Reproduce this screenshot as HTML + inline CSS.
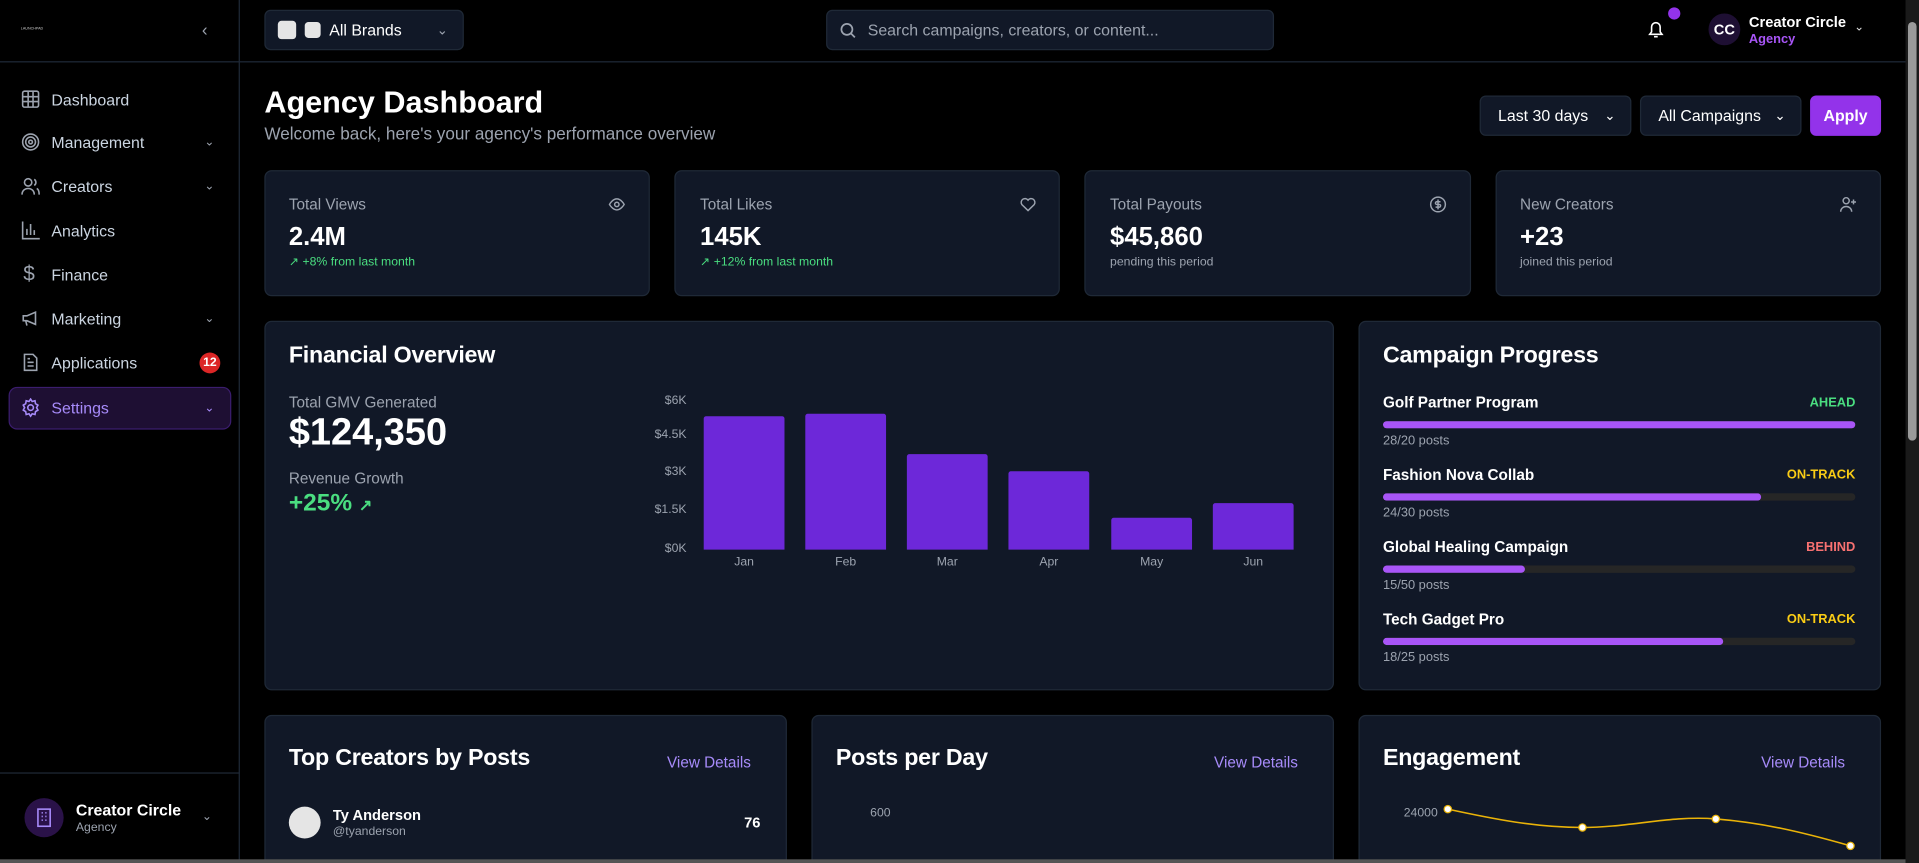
<!DOCTYPE html>
<html><head><meta charset="utf-8"><style>
*{box-sizing:border-box;margin:0;padding:0}
html,body{width:1919px;height:863px;overflow:hidden;background:#000;font-family:"Liberation Sans",sans-serif;color:#fff}
#w{position:absolute;left:0;top:0;width:1568px;height:705px;overflow:hidden;transform:scale(1.22385,1.2241);transform-origin:0 0}
.a{position:absolute;white-space:nowrap}
.card{position:absolute;background:#111827;border:1px solid #1f2937;border-radius:6px}
.btn{position:absolute;background:#111827;border:1px solid #1f2937;border-radius:5px;font-size:13px;display:flex;align-items:center}
.nav{position:absolute;left:42px;font-size:13px;color:#cbd5e1}
.ico{position:absolute;left:17px;width:16px;height:16px}
.chev{position:absolute;font-size:10px;color:#9ca3af}
.lbl{font-size:12.5px;color:#9ca3af}
.val{font-size:21px;font-weight:bold}
.bar{position:absolute;background:#6d28d9;border-radius:2px 2px 0 0;width:66px}
.ml{position:absolute;top:454px;font-size:10px;color:#9ca3af;width:66px;text-align:center}
.yl{position:absolute;right:1007px;font-size:10px;color:#9ca3af}
.cn{position:absolute;left:1130px;font-size:12.5px;font-weight:bold}
.st{position:absolute;right:52px;font-size:10.5px;font-weight:bold}
.tr{position:absolute;left:1130px;width:386px;height:6px;background:#262626;border-radius:3px;overflow:hidden}
.tr div{height:6px;background:#a855f7;border-radius:3px}
.ps{position:absolute;left:1130px;font-size:10.5px;color:#9ca3af}
.h2{position:absolute;font-size:19px;font-weight:bold;letter-spacing:-0.2px}
.vd{position:absolute;font-size:12.5px;color:#a78bfa}
</style></head><body><div id="w">
<div class="a" style="left:0;top:0;width:196px;height:705px;border-right:1px solid #1f2937"></div>
<div class="a" style="left:0;top:50px;width:196px;border-top:1px solid #1f2937"></div>
<div class="a" style="left:17px;top:21px;font-size:3px;color:#ccc">LAUNCHPAD</div>
<div class="chev" style="left:165px;top:16px;font-size:14px">‹</div>
<svg class="ico" style="top:73px" viewBox="0 0 16 16" fill="none" stroke="#9ca3af" stroke-width="1.3"><rect x="1.5" y="1.5" width="13" height="13" rx="1.5"/><path d="M1.5 6h13M1.5 10h13M6 1.5v13M10 1.5v13"/></svg>
<div class="nav" style="top:74px">Dashboard</div>
<svg class="ico" style="top:108px" viewBox="0 0 16 16" fill="none" stroke="#9ca3af" stroke-width="1.3"><circle cx="8" cy="8" r="6.5"/><circle cx="8" cy="8" r="4"/><circle cx="8" cy="8" r="1.5"/></svg>
<div class="nav" style="top:109px">Management</div><div class="chev" style="left:167px;top:111px">⌄</div>
<svg class="ico" style="top:144px" viewBox="0 0 16 16" fill="none" stroke="#9ca3af" stroke-width="1.3"><circle cx="6" cy="5" r="3"/><path d="M1 15c0-3 2-5 5-5s5 2 5 5M11 2.5a3 3 0 010 5M13 10c1.5.6 2 2.5 2 5"/></svg>
<div class="nav" style="top:145px">Creators</div><div class="chev" style="left:167px;top:147px">⌄</div>
<svg class="ico" style="top:180px" viewBox="0 0 16 16" fill="none" stroke="#9ca3af" stroke-width="1.3"><path d="M1.5 1v14h14M5 12V7M8 12V3M11 12V8"/></svg>
<div class="nav" style="top:181px">Analytics</div>
<div class="a" style="left:19px;top:214px;font-size:17px;color:#9ca3af">$</div>
<div class="nav" style="top:217px">Finance</div>
<svg class="ico" style="top:252px" viewBox="0 0 16 16" fill="none" stroke="#9ca3af" stroke-width="1.3"><path d="M2 6h3l7-3v10l-7-3H2zM4 10l1 4"/></svg>
<div class="nav" style="top:253px">Marketing</div><div class="chev" style="left:167px;top:255px">⌄</div>
<svg class="ico" style="top:288px" viewBox="0 0 16 16" fill="none" stroke="#9ca3af" stroke-width="1.3"><path d="M3 1.5h7l3 3v10H3zM5.5 8h5M5.5 11h5M5.5 5h2"/></svg>
<div class="nav" style="top:289px">Applications</div>
<div class="a" style="left:163px;top:288px;width:17px;height:17px;border-radius:50%;background:#dc2626;font-size:10px;font-weight:bold;text-align:center;line-height:17px">12</div>
<div class="a" style="left:7px;top:316px;width:182px;height:35px;background:#1e0f33;border:1px solid #3b1d6e;border-radius:7px"></div>
<svg class="ico" style="top:325px" viewBox="0 0 16 16" fill="none" stroke="#a78bfa" stroke-width="1.3"><circle cx="8" cy="8" r="2.3"/><path d="M8 1l1.3 2 2.3-.6.4 2.3 2 1.3-1.1 2 1.1 2-2 1.3-.4 2.3-2.3-.6L8 15l-1.3-2-2.3.6-.4-2.3-2-1.3 1.1-2-1.1-2 2-1.3.4-2.3 2.3.6z"/></svg>
<div class="nav" style="top:326px;color:#a78bfa">Settings</div><div class="chev" style="left:167px;top:328px;color:#a78bfa">⌄</div>
<div class="a" style="left:0;top:631px;width:196px;border-top:1px solid #1f2937"></div>
<div class="a" style="left:20px;top:652px;width:32px;height:32px;border-radius:50%;background:#2a1248"></div>
<svg class="a" style="left:29px;top:660px" width="14" height="16" viewBox="0 0 14 16" fill="none" stroke="#a78bfa" stroke-width="1.3"><rect x="2" y="1" width="10" height="14"/><path d="M5 4h1M8 4h1M5 7h1M8 7h1M5 10h1M8 10h1"/></svg>
<div class="a" style="left:62px;top:654px;font-size:13px;font-weight:bold">Creator Circle</div>
<div class="a" style="left:62px;top:671px;font-size:10px;color:#9ca3af">Agency</div>
<div class="chev" style="left:165px;top:662px">⌄</div>
<div class="a" style="left:196px;top:50px;width:1361px;border-top:1px solid #1f2937"></div>
<div class="btn" style="left:216px;top:8px;width:163px;height:33px">
<span style="display:inline-block;width:15px;height:15px;background:#e5e5e5;border-radius:3px;margin-left:10px"></span>
<span style="display:inline-block;width:13px;height:13px;background:#e5e5e5;border-radius:3px;margin-left:7px"></span>
<span style="margin-left:7px">All Brands</span><span style="margin-left:auto;margin-right:12px;color:#9ca3af;font-size:11px">⌄</span></div>
<div class="btn" style="left:675px;top:8px;width:366px;height:33px;color:#9ca3af">
<svg style="margin-left:10px" width="14" height="14" viewBox="0 0 14 14" fill="none" stroke="#9ca3af" stroke-width="1.4"><circle cx="6" cy="6" r="4.5"/><path d="M9.5 9.5l3 3"/></svg>
<span style="margin-left:9px">Search campaigns, creators, or content...</span></div>
<svg class="a" style="left:1346px;top:16px" width="14" height="16" viewBox="0 0 14 16" fill="none" stroke="#fff" stroke-width="1.3"><path d="M2 12h10l-1.5-2V6a3.5 3.5 0 00-7 0v4zM5.5 14h3"/></svg>
<div class="a" style="left:1363px;top:6px;width:10px;height:10px;border-radius:50%;background:#9333ea"></div>
<div class="a" style="left:1396px;top:11px;width:26px;height:26px;border-radius:50%;background:#1e0f33;font-size:12px;font-weight:bold;text-align:center;line-height:26px">CC</div>
<div class="a" style="left:1429px;top:11px;font-size:12px;font-weight:bold">Creator Circle</div>
<div class="a" style="left:1429px;top:26px;font-size:10.5px;color:#a855f7;font-weight:bold">Agency</div>
<div class="chev" style="left:1515px;top:17px;color:#ddd">⌄</div>
<div class="a" style="left:1557px;top:0;width:11px;height:705px;background:#1a1a1a"></div>
<div class="a" style="left:1559px;top:18px;width:7px;height:342px;background:#9a9a9a;border-radius:4px"></div>
<div class="a" style="left:216px;top:70px;font-size:25px;font-weight:bold">Agency Dashboard</div>
<div class="a" style="left:216px;top:101px;font-size:14px;color:#9ca3af">Welcome back, here's your agency's performance overview</div>
<div class="btn" style="left:1209px;top:78px;width:124px;height:33px"><span style="margin-left:14px">Last 30 days</span><span style="margin-left:auto;margin-right:12px;font-size:11px">⌄</span></div>
<div class="btn" style="left:1340px;top:78px;width:132px;height:33px"><span style="margin-left:14px">All Campaigns</span><span style="margin-left:auto;margin-right:12px;font-size:11px">⌄</span></div>
<div class="btn" style="left:1479px;top:78px;width:58px;height:33px;background:#9333ea;border-color:#9333ea;justify-content:center;font-weight:bold">Apply</div>
<div class="card" style="left:216px;top:139px;width:315px;height:103px"></div>
<div class="card" style="left:551px;top:139px;width:315px;height:103px"></div>
<div class="card" style="left:886px;top:139px;width:316px;height:103px"></div>
<div class="card" style="left:1222px;top:139px;width:315px;height:103px"></div>
<div class="a lbl" style="left:236px;top:160px">Total Views</div><div class="a val" style="left:236px;top:182px">2.4M</div><div class="a" style="left:236px;top:209px;font-size:10px;color:#4ade80">↗ +8% from last month</div>
<div class="a lbl" style="left:572px;top:160px">Total Likes</div><div class="a val" style="left:572px;top:182px">145K</div><div class="a" style="left:572px;top:209px;font-size:10px;color:#4ade80">↗ +12% from last month</div>
<div class="a lbl" style="left:907px;top:160px">Total Payouts</div><div class="a val" style="left:907px;top:182px">$45,860</div><div class="a" style="left:907px;top:209px;font-size:10px;color:#9ca3af">pending this period</div>
<div class="a lbl" style="left:1242px;top:160px">New Creators</div><div class="a val" style="left:1242px;top:182px">+23</div><div class="a" style="left:1242px;top:209px;font-size:10px;color:#9ca3af">joined this period</div>
<svg class="a" style="left:497px;top:161px" width="14" height="12" viewBox="0 0 14 12" fill="none" stroke="#9ca3af" stroke-width="1.2"><path d="M1 6s2.5-4.5 6-4.5S13 6 13 6s-2.5 4.5-6 4.5S1 6 1 6z"/><circle cx="7" cy="6" r="1.8"/></svg>
<svg class="a" style="left:833px;top:161px" width="14" height="12" viewBox="0 0 14 12" fill="none" stroke="#9ca3af" stroke-width="1.2"><path d="M7 11L2 6.2A2.8 2.8 0 017 2.5a2.8 2.8 0 015 3.7z"/></svg>
<svg class="a" style="left:1168px;top:160px" width="14" height="14" viewBox="0 0 14 14" fill="none" stroke="#9ca3af" stroke-width="1.2"><circle cx="7" cy="7" r="6"/><path d="M9 4.8H6a1.1 1.1 0 000 2.2h2a1.1 1.1 0 010 2.2H5M7 3v8"/></svg>
<svg class="a" style="left:1503px;top:160px" width="14" height="14" viewBox="0 0 14 14" fill="none" stroke="#9ca3af" stroke-width="1.2"><circle cx="5.5" cy="4" r="2.5"/><path d="M1 13c0-2.5 2-4.3 4.5-4.3S10 10.5 10 13M11.5 3v4M9.5 5h4"/></svg>
<div class="card" style="left:216px;top:262px;width:874px;height:302px"></div>
<div class="h2" style="left:236px;top:280px">Financial Overview</div>
<div class="a lbl" style="left:236px;top:322px">Total GMV Generated</div>
<div class="a" style="left:236px;top:335px;font-size:31px;font-weight:bold">$124,350</div>
<div class="a lbl" style="left:236px;top:384px">Revenue Growth</div>
<div class="a" style="left:236px;top:400px;font-size:20px;font-weight:bold;color:#4ade80">+25% <span style="font-size:13px">↗</span></div>
<div class="yl" style="top:322px">$6K</div><div class="yl" style="top:350px">$4.5K</div><div class="yl" style="top:380px">$3K</div><div class="yl" style="top:411px">$1.5K</div><div class="yl" style="top:443px">$0K</div>
<div class="bar" style="left:575px;top:340px;height:109px"></div>
<div class="bar" style="left:658px;top:338px;height:111px"></div>
<div class="bar" style="left:741px;top:371px;height:78px"></div>
<div class="bar" style="left:824px;top:385px;height:64px"></div>
<div class="bar" style="left:908px;top:423px;height:26px"></div>
<div class="bar" style="left:991px;top:411px;height:38px"></div>
<div class="ml" style="left:575px">Jan</div><div class="ml" style="left:658px">Feb</div><div class="ml" style="left:741px">Mar</div><div class="ml" style="left:824px">Apr</div><div class="ml" style="left:908px">May</div><div class="ml" style="left:991px">Jun</div>
<div class="card" style="left:1110px;top:262px;width:427px;height:302px"></div>
<div class="h2" style="left:1130px;top:280px">Campaign Progress</div>
<div class="cn" style="top:322px">Golf Partner Program</div><div class="st" style="top:323px;color:#4ade80">AHEAD</div>
<div class="tr" style="top:344px"><div style="width:100%"></div></div><div class="ps" style="top:354px">28/20 posts</div>
<div class="cn" style="top:381px">Fashion Nova Collab</div><div class="st" style="top:382px;color:#facc15">ON-TRACK</div>
<div class="tr" style="top:403px"><div style="width:80%"></div></div><div class="ps" style="top:413px">24/30 posts</div>
<div class="cn" style="top:440px">Global Healing Campaign</div><div class="st" style="top:441px;color:#f87171">BEHIND</div>
<div class="tr" style="top:462px"><div style="width:30%"></div></div><div class="ps" style="top:472px">15/50 posts</div>
<div class="cn" style="top:499px">Tech Gadget Pro</div><div class="st" style="top:500px;color:#facc15">ON-TRACK</div>
<div class="tr" style="top:521px"><div style="width:72%"></div></div><div class="ps" style="top:531px">18/25 posts</div>
<div class="card" style="left:216px;top:584px;width:427px;height:140px"></div>
<div class="card" style="left:663px;top:584px;width:427px;height:140px"></div>
<div class="card" style="left:1110px;top:584px;width:427px;height:140px"></div>
<div class="h2" style="left:236px;top:609px">Top Creators by Posts</div><div class="vd" style="left:545px;top:616px">View Details</div>
<div class="h2" style="left:683px;top:609px">Posts per Day</div><div class="vd" style="left:992px;top:616px">View Details</div>
<div class="h2" style="left:1130px;top:609px">Engagement</div><div class="vd" style="left:1439px;top:616px">View Details</div>
<div class="a" style="left:236px;top:659px;width:26px;height:26px;border-radius:50%;background:#e5e5e5"></div>
<div class="a" style="left:272px;top:659px;font-size:12px;font-weight:bold">Ty Anderson</div>
<div class="a" style="left:272px;top:674px;font-size:10px;color:#9ca3af">@tyanderson</div>
<div class="a" style="left:608px;top:665px;font-size:12px;font-weight:bold">76</div>
<div class="a" style="left:711px;top:659px;font-size:10px;color:#9ca3af">600</div>
<div class="a" style="left:1147px;top:659px;font-size:10px;color:#9ca3af">24000</div>
<svg class="a" style="left:1110px;top:584px" width="427" height="121"><path d="M73 77C110 85 145 92 183 92S255 82 292 85S360 95 402 107" fill="none" stroke="#eab308" stroke-width="1.3"/>
<g fill="#fff" stroke="#eab308" stroke-width="1"><circle cx="73" cy="77" r="3"/><circle cx="183" cy="92" r="3"/><circle cx="292" cy="85" r="3"/><circle cx="402" cy="107" r="3"/></g></svg>
<div class="a" style="left:0;top:702px;width:1557px;height:3px;background:#555"></div>
</div></body></html>
